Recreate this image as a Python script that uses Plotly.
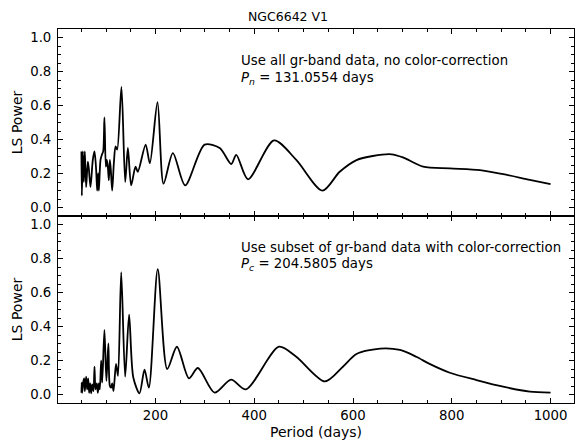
import plotly.graph_objects as go
from plotly.subplots import make_subplots

# Top panel: all gr-band data, no color-correction
period_n = [50, 50.8, 52.8, 54.8, 56.8, 59.5, 62.9, 64.9, 68.3, 73, 76.4, 79.8, 81.8, 83.8, 85.2,
            88.6, 91.3, 94, 96.5, 99.4, 101.4, 103.4, 105.5, 107.5, 109.5, 112.2, 115.6, 119, 122.4,
            131, 138.6, 144, 150.7, 159.5, 164.2, 180, 188.5, 204, 216.3, 235.2, 260, 299.4, 330,
            353.4, 363.5, 387.3, 440, 485, 538, 573, 607, 640, 678, 701, 742, 796, 857, 904, 958, 1000]
power_n = [0.33, 0.07, 0.33, 0.15, 0.33, 0.12, 0.27, 0.23, 0.12, 0.28, 0.33, 0.22, 0.10, 0.20, 0.10,
           0.28, 0.31, 0.33, 0.53, 0.24, 0.28, 0.24, 0.16, 0.28, 0.22, 0.10, 0.26, 0.36, 0.34,
           0.71, 0.15, 0.35, 0.13, 0.24, 0.21, 0.37, 0.26, 0.62, 0.14, 0.32, 0.13, 0.37, 0.35,
           0.256, 0.31, 0.166, 0.395, 0.28, 0.099, 0.21, 0.279, 0.303, 0.313, 0.295, 0.24, 0.23, 0.22, 0.196, 0.163, 0.138]

# Bottom panel: subset with color-correction
period_c = [50, 50.5, 51.4, 53.4, 55.5, 56.8, 59.5, 61.5, 63.6, 65.6, 67.6, 69.7, 71.7, 74.4, 76.4,
            78.4, 81.1, 83.2, 85.2, 87.2, 89.9, 92, 96.5, 100.5, 104.5, 107.5, 110, 112.2, 114.9,
            120, 124, 130.5, 138.5, 146.5, 155, 167.6, 177.7, 186.5, 204.5, 223.7, 243.3, 267.6,
            285.8, 319.6, 353, 383, 450, 485, 543, 580, 607, 655, 695, 728, 755, 796, 850, 904, 958, 1000]
power_c = [0.01, 0.07, 0.01, 0.07, 0.095, 0.02, 0.105, 0.03, 0.095, 0.01, 0.066, 0.007, 0.06, 0.02, 0.164,
           0.03, 0.066, 0.01, 0.066, 0.03, 0.20, 0.07, 0.38, 0.08, 0.30, 0.05, 0.04, 0.066, 0.02,
           0.18, 0.11, 0.72, 0.105, 0.47, 0.10, 0.007, 0.146, 0.04, 0.737, 0.15, 0.281, 0.095,
           0.156, 0.011, 0.088, 0.03, 0.281, 0.222, 0.077, 0.165, 0.238, 0.27, 0.262, 0.222, 0.18, 0.128, 0.085, 0.046, 0.017, 0.011]

title_text = "NGC6642 V1"
label_top = ["Use all gr-band data, no color-correction", "<i>P</i><sub><i>n</i></sub> = 131.0554 days"]
label_bot = ["Use subset of gr-band data with color-correction", "<i>P</i><sub><i>c</i></sub> = 204.5805 days"]

FONT = "DejaVu Sans"
fig = make_subplots(rows=2, cols=1, shared_xaxes=True, vertical_spacing=0)
fig.add_trace(go.Scatter(x=period_n, y=power_n, mode="lines", line=dict(color="black", width=1.8, shape="spline", smoothing=0.8)), row=1, col=1)
fig.add_trace(go.Scatter(x=period_c, y=power_c, mode="lines", line=dict(color="black", width=1.8, shape="spline", smoothing=0.8)), row=2, col=1)

axis_common = dict(showline=True, linecolor="black", linewidth=1, mirror="allticks", ticks="inside",
                   ticklen=4.7, tickwidth=1, tickcolor="black", showgrid=False, zeroline=False,
                   tickfont=dict(family=FONT, size=13.3, color="black"))
for r in (1, 2):
    fig.update_xaxes(range=[2.5, 1047.5], dtick=200, tick0=0,
                     minor=dict(ticks="inside", dtick=50, ticklen=2.7, tickwidth=1, tickcolor="black", showgrid=False),
                     **axis_common, row=r, col=1)
    fig.update_yaxes(range=[-0.05, 1.05], dtick=0.2, tick0=0, tickformat=".1f", ticklabelstandoff=3,
                     minor=dict(ticks="inside", dtick=0.05, ticklen=2.7, tickwidth=1, tickcolor="black", showgrid=False),
                     **axis_common, row=r, col=1)

ann = []
xt = 0.3507
for txt, y in zip(label_top, [0.9412, 0.8965]):
    ann.append(dict(text=txt, x=xt, y=y, xref="paper", yref="paper", xanchor="left", yanchor="top", showarrow=False,
                    font=dict(family=FONT, size=13.3, color="black")))
for txt, y in zip(label_bot, [0.442, 0.3976]):
    ann.append(dict(text=txt, x=xt, y=y, xref="paper", yref="paper", xanchor="left", yanchor="top", showarrow=False,
                    font=dict(family=FONT, size=13.3, color="black")))
for y in (0.75, 0.25):
    ann.append(dict(text="LS Power", x=-0.08, y=y, xref="paper", yref="paper", xanchor="center", yanchor="middle",
                    textangle=-90, showarrow=False, font=dict(family=FONT, size=14, color="black")))
ann.append(dict(text="Period (days)", x=0.5, y=-0.077, xref="paper", yref="paper", xanchor="center", yanchor="middle",
                showarrow=False, font=dict(family=FONT, size=14, color="black")))

fig.update_layout(width=576, height=441, margin=dict(l=58, r=2, t=29, b=38),
                  paper_bgcolor="white", plot_bgcolor="white", showlegend=False,
                  title=dict(text=title_text, x=0.5, xref="container", y=1 - 17 / 441, yref="container",
                             xanchor="center", yanchor="middle", font=dict(family=FONT, size=12.5, color="black")),
                  annotations=ann)
fig.write_html("out.html", config={"displayModeBar": False},
               post_script="document.body.style.margin='0';document.body.style.overflow='hidden';")
